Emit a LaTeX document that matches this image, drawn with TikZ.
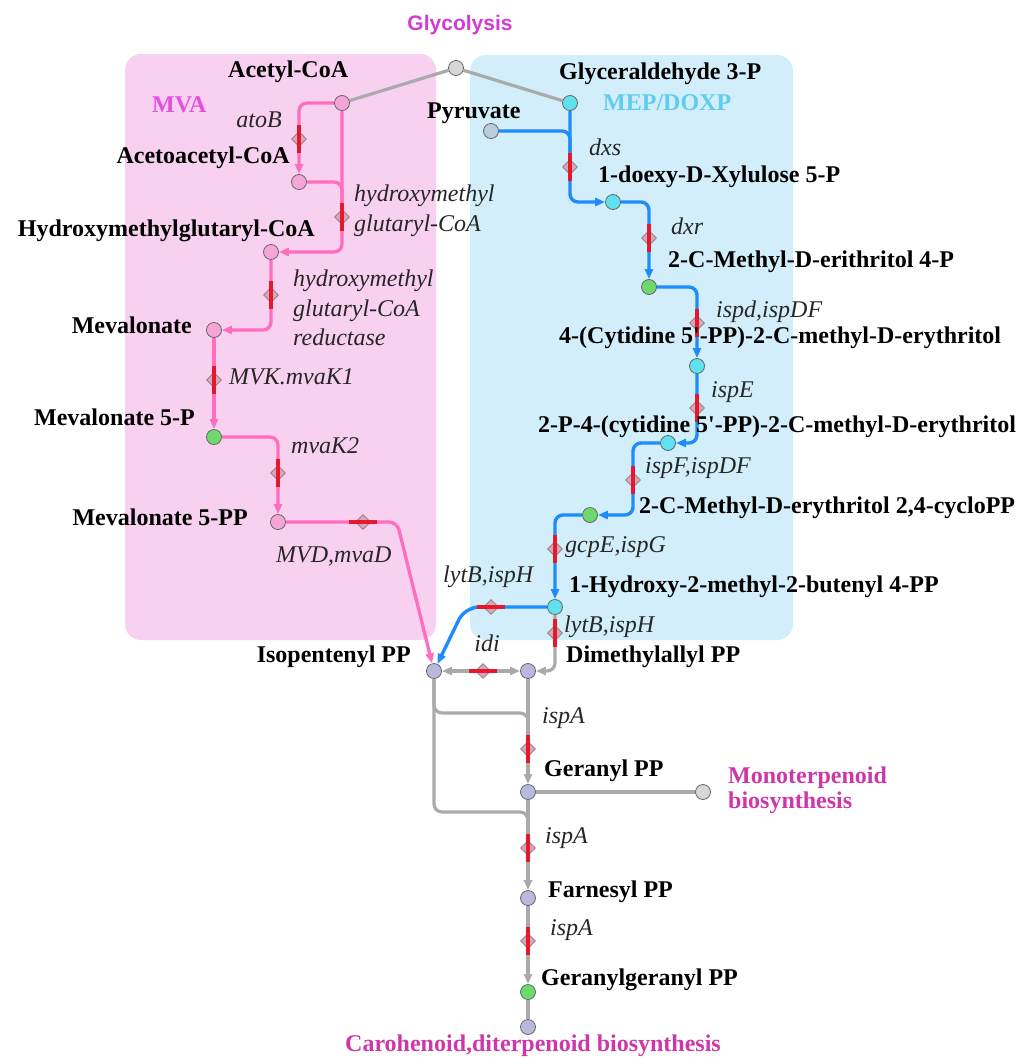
\documentclass[tikz,border=0pt]{standalone}
\usepackage{fontspec}
\setmainfont{Liberation Serif}
\setsansfont{Liberation Sans}
\usetikzlibrary{shapes.geometric,arrows.meta}

\definecolor{mvabox}{RGB}{248,208,240}
\definecolor{mepbox}{RGB}{210,238,250}
\definecolor{mvaline}{RGB}{255,110,190}
\definecolor{mepline}{RGB}{30,140,250}
\definecolor{grline}{RGB}{170,170,170}
\definecolor{barred}{RGB}{228,25,45}
\definecolor{enzfill}{RGB}{222,165,182}
\definecolor{nodegray}{RGB}{215,215,215}
\definecolor{nodepink}{RGB}{245,165,215}
\definecolor{nodegreen}{RGB}{110,218,110}
\definecolor{nodecyan}{RGB}{95,225,240}
\definecolor{nodepyr}{RGB}{185,205,220}
\definecolor{nodelav}{RGB}{185,185,222}
\definecolor{glycmag}{RGB}{212,58,212}
\definecolor{pathmag}{RGB}{205,55,170}
\definecolor{mvatext}{RGB}{228,80,222}
\definecolor{meptext}{RGB}{95,205,240}

\begin{document}
\begin{tikzpicture}[x=1pt,y=-1pt,
  cpd/.style={circle,draw=black!60,line width=0.8pt,minimum size=15pt,inner sep=0pt},
  cname/.style={font=\bfseries\fontsize{24}{26}\selectfont,inner sep=0pt},
  ename/.style={font=\itshape\fontsize{24}{29.5}\selectfont,text=black!85,inner sep=0pt,align=left},
  pname/.style={font=\bfseries\fontsize{24}{25}\selectfont,text=pathmag,inner sep=0pt,align=left},
  enz/.style={diamond,draw=black!50,fill=enzfill,line width=0.7pt,inner sep=0pt,minimum size=15pt},
  rbar/.style={draw=barred,line width=4pt},
  tip/.style={-{Triangle[length=10pt,width=8pt]}},
  pk/.style={draw=mvaline,line width=3.3pt,rounded corners=8pt},
  bl/.style={draw=mepline,line width=3.4pt,rounded corners=8pt},
  gr/.style={draw=grline,line width=3.2pt,rounded corners=8pt}]

  \useasboundingbox (0,0) rectangle (1028,1058);

  % Pathway boxes
  \fill[mvabox,rounded corners=16pt] (125,54) rectangle (436,640);
  \fill[mepbox,rounded corners=16pt] (470,55) rectangle (793,640);

  % Compounds
  \node[cpd,fill=nodegray]  (glyc)   at (456,68)   {};
  \node[cpd,fill=nodepink]  (acoa)   at (342,103)  {};
  \node[cpd,fill=nodepink]  (acacoa) at (299,182)  {};
  \node[cpd,fill=nodepink]  (hmg)    at (271,252)  {};
  \node[cpd,fill=nodepink]  (mev)    at (214,330)  {};
  \node[cpd,fill=nodegreen] (mevp)   at (214,437)  {};
  \node[cpd,fill=nodepink]  (mevpp)  at (278,522)  {};
  \node[cpd,fill=nodecyan]  (g3p)    at (570,103)  {};
  \node[cpd,fill=nodepyr]   (pyr)    at (491,131)  {};
  \node[cpd,fill=nodecyan]  (dxp)    at (613,202)  {};
  \node[cpd,fill=nodegreen] (mep)    at (649,287)  {};
  \node[cpd,fill=nodecyan]  (cdpme)  at (697,366)  {};
  \node[cpd,fill=nodecyan]  (cdpmep) at (668,443)  {};
  \node[cpd,fill=nodegreen] (mecpp)  at (590,515)  {};
  \node[cpd,fill=nodecyan]  (hmbpp)  at (555,607)  {};
  \node[cpd,fill=nodelav]   (ipp)    at (434,671)  {};
  \node[cpd,fill=nodelav]   (dmapp)  at (528,671)  {};
  \node[cpd,fill=nodelav]   (gpp)    at (528,792)  {};
  \node[cpd,fill=nodegray]  (mono)   at (703,792)  {};
  \node[cpd,fill=nodelav]   (fpp)    at (528,898)  {};
  \node[cpd,fill=nodegreen] (ggpp)   at (528,992)  {};
  \node[cpd,fill=nodelav]   (diterp) at (528,1027) {};

  % Reactions
  \draw[gr] (glyc) -- (acoa);
  \draw[gr] (glyc) -- (g3p);
  \draw[pk,tip] (acoa) -| (acacoa);
  \draw[pk,tip] (acoa) |- (hmg);
  \draw[pk] (acacoa) -- (acacoa -| acoa) -- ++(0,22);
  \draw[pk,tip] (hmg) |- (mev);
  \draw[pk,tip] (mev) -- (mevp);
  \draw[pk,tip] (mevp) -| (mevpp);
  \draw[pk,tip] (mevpp) -- (397,522) -- (ipp);

  \draw[bl,tip] (g3p) |- (dxp);
  \draw[bl] (pyr) -- (pyr -| g3p) -- ++(0,22);
  \draw[bl,tip] (dxp) -| (mep);
  \draw[bl,tip] (mep) -| (cdpme);
  \draw[bl,tip] (cdpme) |- (cdpmep);
  \draw[bl,tip] (cdpmep) -| (633,480) |- (mecpp);
  \draw[bl,tip] (mecpp) -| (hmbpp);
  \draw[bl,tip,rounded corners=14pt] (hmbpp) -- (465,607) -- (ipp);
  \draw[gr,tip] (hmbpp) |- (dmapp);

  \draw[gr,{Triangle[length=10pt,width=8pt]}-{Triangle[length=10pt,width=8pt]}] (ipp) -- (dmapp);
  \draw[gr,tip] (dmapp) -- (gpp);
  \draw[gr] (ipp) |- (528,713) -- ++(0,18);
  \draw[gr] (ipp) |- (528,812) -- ++(0,18);
  \draw[gr] (gpp) -- (mono);
  \draw[gr,tip] (gpp) -- (fpp);
  \draw[gr,tip] (fpp) -- (ggpp);
  \draw[gr] (ggpp) -- (diterp);

  % Enzymes
  \node[enz] (eAtoB)  at (299,139) {};
  \node[enz] (eHmgs)  at (342,217) {};
  \node[enz] (eHmgr)  at (271,295) {};
  \node[enz] (eMvk)   at (214,380) {};
  \node[enz] (eMvk2)  at (278,473) {};
  \node[enz] (eMvd)   at (363,522) {};
  \node[enz] (eDxs)   at (570,167) {};
  \node[enz] (eDxr)   at (649,238) {};
  \node[enz] (eIspD)  at (697,323) {};
  \node[enz] (eIspE)  at (697,408) {};
  \node[enz] (eIspF)  at (633,480) {};
  \node[enz] (eIspG)  at (555,549) {};
  \node[enz] (eIspHa) at (491,607) {};
  \node[enz] (eIspHb) at (555,633) {};
  \node[enz] (eIdi)   at (483,671) {};
  \node[enz] (eIspA1) at (528,749) {};
  \node[enz] (eIspA2) at (528,848) {};
  \node[enz] (eIspA3) at (528,941) {};
  \foreach \e in {eAtoB,eHmgs,eHmgr,eMvk,eMvk2,eDxs,eDxr,eIspD,eIspE,eIspF,eIspG,eIspHb,eIspA1,eIspA2,eIspA3}
    \draw[rbar] ([yshift=14pt]\e.center) -- ([yshift=-14pt]\e.center);
  \foreach \e in {eMvd,eIspHa,eIdi}
    \draw[rbar] ([xshift=-14pt]\e.center) -- ([xshift=14pt]\e.center);

  % Compound names
  \node[cname,anchor=west] (tAcoa)   at (228,72)  {Acetyl-CoA};
  \node[cname,anchor=east] (tAcacoa) at (290,158) {Acetoacetyl-CoA};
  \node[cname,anchor=east] (tHmg)    at (315,231) {Hydroxymethylglutaryl-CoA};
  \node[cname,anchor=east] (tMev)    at (192,325) {Mevalonate};
  \node[cname,anchor=east] (tMevp)   at (195,417) {Mevalonate 5-P};
  \node[cname,anchor=east] (tMevpp)  at (248,517) {Mevalonate 5-PP};
  \node[cname,anchor=east] (tIpp)    at (411,657) {Isopentenyl PP};
  \node[cname,anchor=west] (tDmapp)  at (566,657) {Dimethylallyl PP};
  \node[cname,anchor=west] (tPyr)    at (427,113) {Pyruvate};
  \node[cname,anchor=west] (tG3p)    at (559,74)  {Glyceraldehyde 3-P};
  \node[cname,anchor=west] (tDxp)    at (598,177) {1-doexy-D-Xylulose 5-P};
  \node[cname,anchor=west] (tMep)    at (668,262) {2-C-Methyl-D-erithritol 4-P};
  \node[cname,anchor=west] (tCdpme)  at (559,338) {4-(Cytidine 5\textquotesingle-PP)-2-C-methyl-D-erythritol};
  \node[cname,anchor=west] (tCdpmep) at (538,427) {2-P-4-(cytidine 5\textquotesingle-PP)-2-C-methyl-D-erythritol};
  \node[cname,anchor=west] (tMecpp)  at (639,508) {2-C-Methyl-D-erythritol 2,4-cycloPP};
  \node[cname,anchor=west] (tHmbpp)  at (569,587) {1-Hydroxy-2-methyl-2-butenyl 4-PP};
  \node[cname,anchor=west] (tGpp)    at (544,771) {Geranyl PP};
  \node[cname,anchor=west] (tFpp)    at (548,892) {Farnesyl PP};
  \node[cname,anchor=west] (tGgpp)   at (541,980) {Geranylgeranyl PP};

  % Enzyme names
  \node[ename,anchor=east] (tAtoB)  at (282,120) {atoB};
  \node[ename,anchor=west] (tHmgs)  at (354,211) {hydroxymethyl\\glutaryl-CoA};
  \node[ename,anchor=west] (tHmgr)  at (293,308) {hydroxymethyl\\glutaryl-CoA\\reductase};
  \node[ename,anchor=west] (tMvk)   at (229,377) {MVK.mvaK1};
  \node[ename,anchor=west] (tMvk2)  at (291,446) {mvaK2};
  \node[ename,anchor=west] (tMvd)   at (276,556) {MVD,mvaD};
  \node[ename,anchor=west] (tDxs)   at (589,147) {dxs};
  \node[ename,anchor=west] (tDxr)   at (671,226) {dxr};
  \node[ename,anchor=west] (tIspD)  at (716,312) {ispd,ispDF};
  \node[ename,anchor=west] (tIspE)  at (711,392) {ispE};
  \node[ename,anchor=west] (tIspF)  at (645,468) {ispF,ispDF};
  \node[ename,anchor=west] (tIspG)  at (565,547) {gcpE,ispG};
  \node[ename,anchor=west] (tIspHa) at (443,577) {lytB,ispH};
  \node[ename,anchor=west] (tIspHb) at (564,627) {lytB,ispH};
  \node[ename]             (tIdi)   at (487,643) {idi};
  \node[ename,anchor=west] (tIspA1) at (542,718) {ispA};
  \node[ename,anchor=west] (tIspA2) at (545,838) {ispA};
  \node[ename,anchor=west] (tIspA3) at (550,930) {ispA};

  % Pathway names
  \node[font=\sffamily\bfseries\fontsize{21}{24}\selectfont,text=glycmag] (tGlyc) at (460,25) {Glycolysis};
  \node[pname,text=mvatext,anchor=west] (tMva) at (152,105) {MVA};
  \node[pname,text=meptext,anchor=west] (tMepdoxp) at (603,103) {MEP/DOXP};
  \node[pname,anchor=west] (tMono) at (728,790) {Monoterpenoid\\biosynthesis};
  \node[pname] (tDiterp) at (533,1046) {Carohenoid,diterpenoid biosynthesis};

\end{tikzpicture}
\end{document}
